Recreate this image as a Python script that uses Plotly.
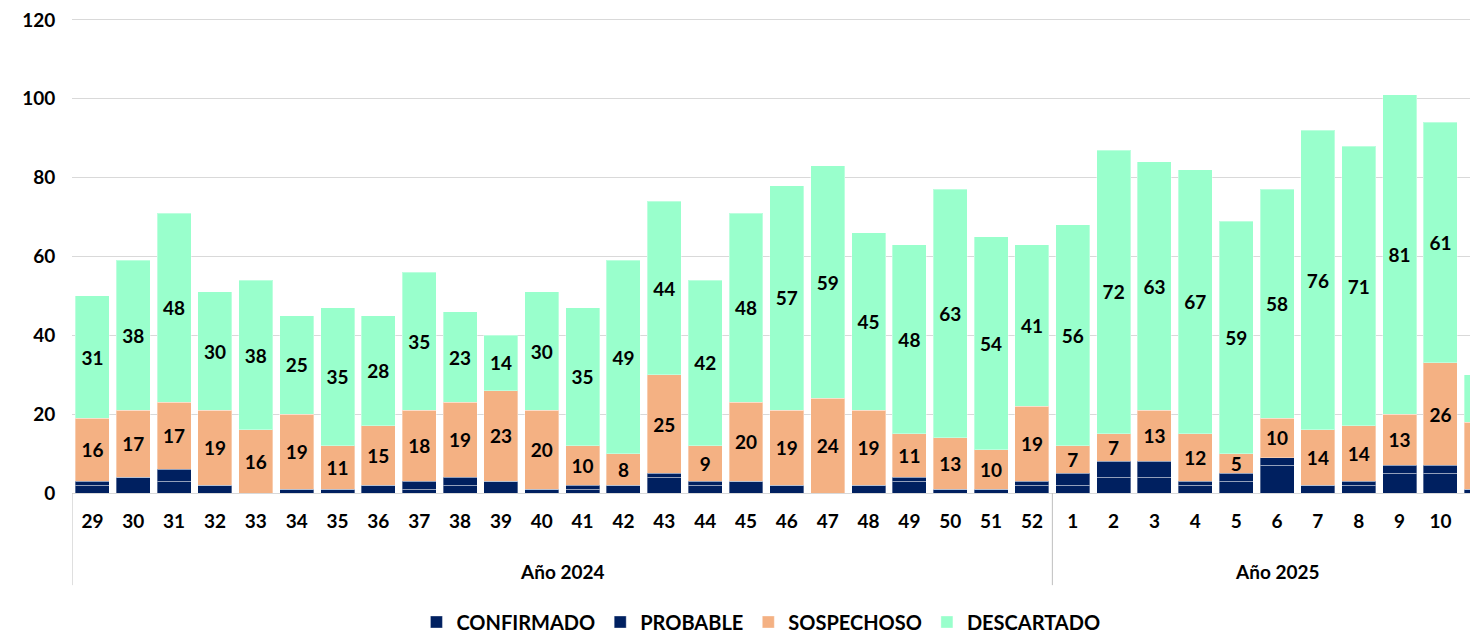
import plotly.graph_objects as go

# semanas epidemiologicas (2024: 29-52, 2025: 1-11)
weeks = ['29', '30', '31', '32', '33', '34', '35', '36', '37', '38', '39', '40',
         '41', '42', '43', '44', '45', '46', '47', '48', '49', '50', '51', '52',
         '1', '2', '3', '4', '5', '6', '7', '8', '9', '10', '11']

confirmado = [2, 4, 3, 2, 0, 1, 1, 2, 1, 2, 3, 1, 1, 2, 4, 2, 3, 2, 0, 2, 3, 1, 1, 2,
              2, 4, 4, 2, 3, 7, 2, 2, 5, 5, 1]
probable = [1, 0, 3, 0, 0, 0, 0, 0, 2, 2, 0, 0, 1, 0, 1, 1, 0, 0, 0, 0, 1, 0, 0, 1,
            3, 4, 4, 1, 2, 2, 0, 1, 2, 2, 0]
sospechoso = [16, 17, 17, 19, 16, 19, 11, 15, 18, 19, 23, 20, 10, 8, 25, 9, 20, 19, 24, 19, 11, 13, 10, 19,
              7, 7, 13, 12, 5, 10, 14, 14, 13, 26, 17]
descartado = [31, 38, 48, 30, 38, 25, 35, 28, 35, 23, 14, 30, 35, 49, 44, 42, 48, 57, 59, 45, 48, 63, 54, 41,
              56, 72, 63, 67, 59, 58, 76, 71, 81, 61, 12]

years = ['Año 2024', 'Año 2025']
n_2024 = 24

navy = '#002060'
peach = '#F4B183'
mint = '#99FFCC'
font_family = 'Lato'

# the page body has an 8px margin, so the figure is sized to fit the window
W, H = 1470, 625
x_end = 33.92  # last week is cut by the right edge, as in the original

fig = go.Figure()

series = [
    ('CONFIRMADO', confirmado, navy, False),
    ('PROBABLE', probable, navy, False),
    ('SOSPECHOSO', sospechoso, peach, True),
    ('DESCARTADO', descartado, mint, True),
]

for name, vals, color, show_text in series:
    fig.add_trace(go.Bar(
        x=weeks,
        y=vals,
        name=name,
        marker=dict(color=color, line=dict(color='rgba(255,255,255,0.35)', width=1)),
        text=vals if show_text else None,
        textposition='inside' if show_text else 'none',
        insidetextanchor='middle',
        textangle=0,
        constraintext='none',
        textfont=dict(family=font_family, size=19, color='black', weight='bold'),
    ))

fig.update_layout(
    barmode='stack',
    bargap=0.168,
    width=W,
    height=H,
    margin=dict(l=64, r=0, t=8, b=140),
    plot_bgcolor='white',
    paper_bgcolor='white',
    font=dict(family=font_family, size=19, color='black', weight='bold'),
    legend=dict(
        orientation='h',
        traceorder='normal',
        x=0.49, xanchor='center',
        xref='paper',
        yref='container',
        y=1 - 614 / H, yanchor='middle',
        itemwidth=30,
        font=dict(size=20, weight='bold'),
    ),
    showlegend=True,
)

fig.update_xaxes(
    type='category',
    range=[-0.5, x_end],
    showgrid=False,
    showline=True,
    linecolor='#D9D9D9',
    linewidth=1,
    ticks='outside',
    ticklen=11,
    tickcolor='rgba(0,0,0,0)',
    tickfont=dict(size=19, weight='bold'),
)

fig.update_yaxes(
    range=[0, 120.5],
    tickvals=[0, 20, 40, 60, 80, 100, 120],
    showgrid=True,
    gridcolor='#D9D9D9',
    gridwidth=1,
    zeroline=False,
    showline=False,
    ticks='outside',
    ticklen=12,
    tickcolor='rgba(0,0,0,0)',
    ticklabeloverflow='allow',
    tickfont=dict(size=19, weight='bold'),
)

# etiquetas de año debajo de las semanas
fig.add_annotation(x=(n_2024 - 1) / 2, y=-0.166, xref='x', yref='paper',
                   text=years[0], showarrow=False, yanchor='middle',
                   font=dict(size=19, weight='bold'))
fig.add_annotation(x=n_2024 + (len(weeks) - n_2024 - 1) / 2, y=-0.166, xref='x', yref='paper',
                   text=years[1], showarrow=False, yanchor='middle',
                   font=dict(size=19, weight='bold'))

# etiqueta de la ultima semana, cortada en el borde derecho
fig.add_annotation(x=(len(weeks) - 0.5) / (x_end + 0.5), y=-0.063, xref='paper', yref='paper',
                   text=weeks[-1], showarrow=False, yanchor='middle', xanchor='center',
                   font=dict(size=19, weight='bold'))

# divisores entre grupos de años
for xpos in [-0.5, n_2024 - 0.5]:
    fig.add_shape(type='line', xref='x', yref='paper',
                  x0=xpos, x1=xpos, y0=0, y1=-0.194,
                  line=dict(color='#BFBFBF', width=1))

fig.write_html("out.html")
